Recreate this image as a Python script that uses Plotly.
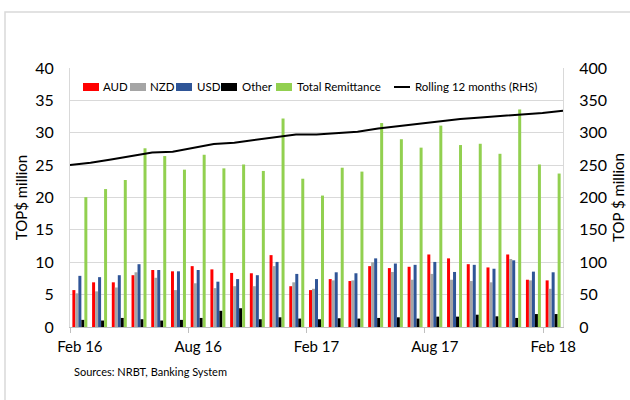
import plotly.graph_objects as go

months = ["Feb 16", "Mar 16", "Apr 16", "May 16", "Jun 16", "Jul 16", "Aug 16", "Sep 16",
          "Oct 16", "Nov 16", "Dec 16", "Jan 17", "Feb 17", "Mar 17", "Apr 17", "May 17",
          "Jun 17", "Jul 17", "Aug 17", "Sep 17", "Oct 17", "Nov 17", "Dec 17", "Jan 18", "Feb 18"]
aud = [5.7, 6.9, 6.9, 8.0, 8.8, 8.6, 9.4, 8.9, 8.35, 8.3, 11.1, 6.3, 5.7, 7.4, 7.1, 9.4,
       9.1, 9.3, 11.2, 10.6, 9.7, 9.2, 11.2, 7.3, 7.2]
nzd = [5.2, 5.5, 6.1, 8.45, 7.6, 5.7, 6.75, 6.0, 6.3, 6.3, 9.4, 6.9, 5.9, 7.2, 7.2, 10.0,
       8.5, 7.3, 8.2, 7.3, 7.1, 6.9, 10.5, 7.2, 5.9]
usd = [7.9, 7.7, 8.0, 9.7, 8.8, 8.6, 8.8, 7.0, 7.4, 8.0, 10.05, 8.2, 7.4, 8.45, 8.3, 10.6,
       9.8, 9.6, 10.05, 8.5, 9.6, 9.0, 10.3, 8.55, 8.45]
other = [1.1, 1.0, 1.4, 1.2, 1.0, 1.1, 1.4, 2.5, 2.9, 1.2, 1.5, 1.3, 1.2, 1.35, 1.3, 1.4,
         1.5, 1.3, 1.6, 1.6, 1.9, 1.65, 1.4, 2.0, 2.0]
total = [20.05, 21.3, 22.7, 27.6, 26.4, 24.3, 26.6, 24.5, 25.1, 24.1, 32.2, 22.9, 20.3, 24.6,
         24.0, 31.5, 29.0, 27.7, 31.1, 28.1, 28.3, 26.75, 33.6, 25.1, 23.7]
rolling = [250, 253.6, 258.8, 264.4, 269.6, 270.6, 276.8, 282.5, 284.6, 288.7, 292.3, 297.4,
           297.4, 300, 301.5, 306.7, 310.3, 313.4, 318, 321.1, 323.7, 325.8, 327.4, 330.5, 334]
label_every = 6

idx = list(range(len(months)))
FONT = "Lato, Calibri, Arial, sans-serif"

# plot-area geometry (px) used to place decorations
W, H = 630, 400
ML, MR, MT, MB = 70, 67, 68, 73
PW, PH = W - ML - MR, H - MT - MB


def px(x):
    return (x - ML) / PW


def py(y):
    return (H - MB - y) / PH


fig = go.Figure()
series = [("AUD", aud, "#FF0000"), ("NZD", nzd, "#A5A5A5"), ("USD", usd, "#2F5597"),
          ("Other", other, "#000000"), ("Total Remittance", total, "#92D050")]
for name, vals, col in series:
    fig.add_trace(go.Bar(x=idx, y=vals, name=name, marker=dict(color=col, line=dict(width=0)),
                         xaxis="x", yaxis="y"))
line_name = "Rolling 12 months (RHS)"
fig.add_trace(go.Scatter(x=idx, y=rolling, name=line_name, mode="lines",
                         line=dict(color="#000000", width=2), xaxis="x2", yaxis="y2"))

tickvals = idx[::label_every]
ticktext = [months[i] for i in tickvals]
boundaries = [i - 0.5 for i in tickvals]

# manual legend (single row, Excel-like compact swatches)
leg_y = 87
swatch_x = [83, 130, 176, 221, 276, 394]
text_x = [101, 148, 195, 240, 295, 413]
shapes = []
annotations = []
for i, (name, _, col) in enumerate(series):
    shapes.append(dict(type="rect", xref="paper", yref="paper",
                       x0=px(swatch_x[i]), x1=px(swatch_x[i] + 16),
                       y0=py(leg_y + 4), y1=py(leg_y - 4),
                       fillcolor=col, line=dict(width=0)))
    annotations.append(dict(text=name, xref="paper", yref="paper", x=px(text_x[i]), y=py(leg_y),
                            xanchor="left", yanchor="middle", showarrow=False,
                            font=dict(size=11.5, family=FONT, color="#000000")))
shapes.append(dict(type="line", xref="paper", yref="paper", x0=px(swatch_x[5]), x1=px(swatch_x[5] + 16),
                   y0=py(leg_y), y1=py(leg_y), line=dict(color="#000000", width=2)))
annotations.append(dict(text=line_name, xref="paper", yref="paper", x=px(text_x[5]), y=py(leg_y),
                        xanchor="left", yanchor="middle", showarrow=False,
                        font=dict(size=11.5, family=FONT, color="#000000")))

annotations.append(dict(text="Sources: NRBT, Banking System", xref="paper", yref="paper",
                        x=px(72), y=py(363), xanchor="left", yanchor="top", showarrow=False,
                        font=dict(size=11, family=FONT, color="#000000")))
shapes.append(dict(type="rect", xref="paper", yref="paper", x0=px(5), x1=px(634),
                   y0=py(404), y1=py(12), line=dict(color="#D9D9D9", width=1.5),
                   fillcolor="rgba(0,0,0,0)", layer="below"))

fig.update_layout(
    width=W, height=H,
    margin=dict(l=ML, r=MR, t=MT, b=MB, autoexpand=False),
    paper_bgcolor="white", plot_bgcolor="white",
    font=dict(family=FONT, color="#000000"),
    barmode="group", bargap=0.24, bargroupgap=0,
    showlegend=False,
    xaxis=dict(range=[-0.5, len(months) - 0.5], tickvals=tickvals, ticktext=ticktext,
               ticks="", showgrid=False, showline=True, linecolor="#BFBFBF", linewidth=1,
               tickfont=dict(size=15), zeroline=False, ticklabelstandoff=6,
               minor=dict(tickmode="array", tickvals=boundaries, ticks="outside", ticklen=5,
                          tickcolor="#BFBFBF", showgrid=False)),
    xaxis2=dict(range=[0, len(months) - 1], overlaying="x", visible=False),
    yaxis=dict(range=[0, 40], dtick=5, showgrid=True, gridcolor="#D9D9D9", gridwidth=1,
               showline=True, linecolor="#D9D9D9", zeroline=False, ticks="",
               tickfont=dict(size=16), ticklabelstandoff=12,
               title=dict(text="TOP$ million", font=dict(size=15), standoff=3)),
    yaxis2=dict(range=[0, 400], dtick=50, overlaying="y", side="right", showgrid=False,
                showline=True, linecolor="#D9D9D9", zeroline=False, ticks="",
                tickfont=dict(size=16), ticklabelstandoff=12,
                title=dict(text="TOP $ million", font=dict(size=15), standoff=7)),
    annotations=annotations,
    shapes=shapes,
)

fig.write_html("out.html", config={"displayModeBar": False},
               post_script="document.body.style.margin='0';document.body.style.overflow='hidden';")
